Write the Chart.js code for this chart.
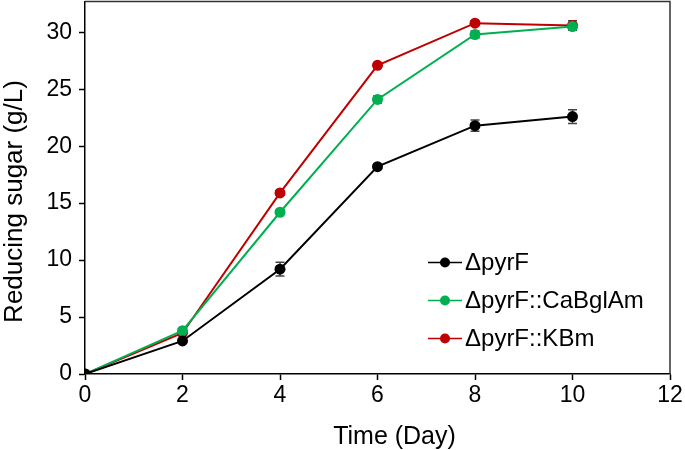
<!DOCTYPE html>
<html>
<head>
<meta charset="utf-8">
<script src="https://cdn.jsdelivr.net/npm/chart.js@4.4.1/dist/chart.umd.min.js"></script>
<style>
  html, body { margin: 0; padding: 0; background: #fff; overflow: hidden; }
  /* taller box shifted up so the plot's top edge sits at ~1px despite point overflow padding */
  #wrap { width: 685px; height: 455px; margin-top: -4.5px; }
</style>
</head>
<body>
<div id="wrap"><canvas id="sugarChart"></canvas></div>
<script>
const days = [0, 2, 4, 6, 8, 10];
const seriesNames = ['\u0394pyrF', '\u0394pyrF::CaBglAm', '\u0394pyrF::KBm'];
const pyrF = [0, 2.9, 9.2, 18.2, 21.8, 22.6];
const pyrFErr = [0, 0.2, 0.6, 0.2, 0.5, 0.6];
const caBglAm = [0, 3.8, 14.2, 24.1, 29.8, 30.5];
const caBglAmErr = [0, 0.2, 0.2, 0.3, 0.3, 0.3];
const kbm = [0, 3.6, 15.9, 27.1, 30.8, 30.6];
const kbmErr = [0, 0.2, 0.2, 0.2, 0.2, 0.4];
const yTicks = [0, 5, 10, 15, 20, 25, 30];
const colors = ['#000000', '#00b050', '#c00000'];

const font = 'Liberation Sans, Arial, sans-serif';

function toXY(vals) {
    return vals.map((v, i) => ({ x: days[i], y: v }));
}

const errors = [pyrFErr, caBglAmErr, kbmErr];

const errorBars = {
    id: 'errorBars',
    beforeDatasetsDraw(chart) {
        const ctx = chart.ctx;
        const y = chart.scales.y;
        ctx.save();
        ctx.strokeStyle = '#444';
        ctx.lineWidth = 1.5;
        chart.data.datasets.forEach((ds, di) => {
            const meta = chart.getDatasetMeta(di);
            meta.data.forEach((pt, i) => {
                const e = errors[di][i];
                if (!e) return;
                const v = ds.data[i].y;
                const top = y.getPixelForValue(v + e);
                const bot = y.getPixelForValue(v - e);
                ctx.beginPath();
                ctx.moveTo(pt.x, top); ctx.lineTo(pt.x, bot);
                ctx.moveTo(pt.x - 4.5, top); ctx.lineTo(pt.x + 4.5, top);
                ctx.moveTo(pt.x - 4.5, bot); ctx.lineTo(pt.x + 4.5, bot);
                ctx.stroke();
            });
        });
        ctx.restore();
    }
};

const frameAndLegend = {
    id: 'frameAndLegend',
    afterDraw(chart) {
        const ctx = chart.ctx;
        const a = chart.chartArea;
        const dy = 4.5; // page offset of the canvas
        ctx.save();
        ctx.strokeStyle = '#333';
        ctx.lineWidth = 1.5;
        ctx.beginPath();
        ctx.moveTo(a.left, a.top); ctx.lineTo(a.right, a.top); ctx.lineTo(a.right, a.bottom);
        ctx.stroke();

        // legend
        ctx.font = '24px ' + font;
        ctx.textBaseline = 'middle';
        ctx.textAlign = 'left';
        const rows = [262, 300, 338];
        seriesNames.forEach((name, i) => {
            const ry = rows[i] + dy;
            ctx.strokeStyle = colors[i];
            ctx.lineWidth = 1.5;
            ctx.beginPath();
            ctx.moveTo(428, ry); ctx.lineTo(462, ry);
            ctx.stroke();
            ctx.fillStyle = colors[i];
            ctx.beginPath();
            ctx.arc(445, ry, 5, 0, Math.PI * 2);
            ctx.fill();
            ctx.fillStyle = '#000';
            ctx.fillText(name, 465, ry + 1);
        });

        // axis titles
        ctx.textAlign = 'center';
        ctx.textBaseline = 'alphabetic';
        ctx.font = '25px ' + font;
        ctx.fillText('Time (Day)', 394.5, 443 + dy);
        ctx.translate(22, 201 + dy);
        ctx.rotate(-Math.PI / 2);
        ctx.font = '26px ' + font;
        ctx.fillText('Reducing sugar (g/L)', 0, 0);
        ctx.restore();
    }
};

const ctx = document.getElementById('sugarChart').getContext('2d');
const sugarChart = new Chart(ctx, {
    type: 'line',
    data: {
        datasets: [pyrF, caBglAm, kbm].map((vals, i) => ({
            label: seriesNames[i],
            data: toXY(vals),
            borderColor: colors[i],
            backgroundColor: colors[i],
            pointBackgroundColor: colors[i],
            pointBorderColor: colors[i],
            pointBorderWidth: 0,
            pointRadius: 5.5,
            borderWidth: 2,
            tension: 0,
            fill: false
        }))
    },
    plugins: [errorBars, frameAndLegend],
    options: {
        responsive: true,
        maintainAspectRatio: false,
        animation: false,
        layout: { padding: { top: 0, right: 15, left: 0, bottom: 0 } },
        plugins: {
            legend: { display: false },
            tooltip: { enabled: false }
        },
        scales: {
            x: {
                type: 'linear',
                min: 0,
                max: 12,
                afterFit(scale) {
                    scale.height = 77;
                    scale.paddingLeft = 0; scale.paddingRight = 0;
                },
                ticks: { stepSize: 2, color: '#000', font: { family: font, size: 23 }, padding: 2 },
                grid: { display: true, drawOnChartArea: false, drawTicks: true, tickLength: 6, tickColor: '#000', tickWidth: 1.5 },
                border: { display: true, color: '#000', width: 1.5 }
            },
            y: {
                min: 0,
                max: 32.7,
                afterFit(scale) {
                    scale.width = 85;
                    scale.paddingTop = 0; scale.paddingBottom = 0;
                },
                afterBuildTicks(scale) {
                    scale.ticks = yTicks.map(v => ({ value: v }));
                },
                ticks: { color: '#000', font: { family: font, size: 23 }, padding: 7 },
                grid: { display: true, drawOnChartArea: false, drawTicks: true, tickLength: 6, tickColor: '#000', tickWidth: 1.5 },
                border: { display: true, color: '#000', width: 1.5 }
            }
        }
    }
});
</script>
</body>
</html>
